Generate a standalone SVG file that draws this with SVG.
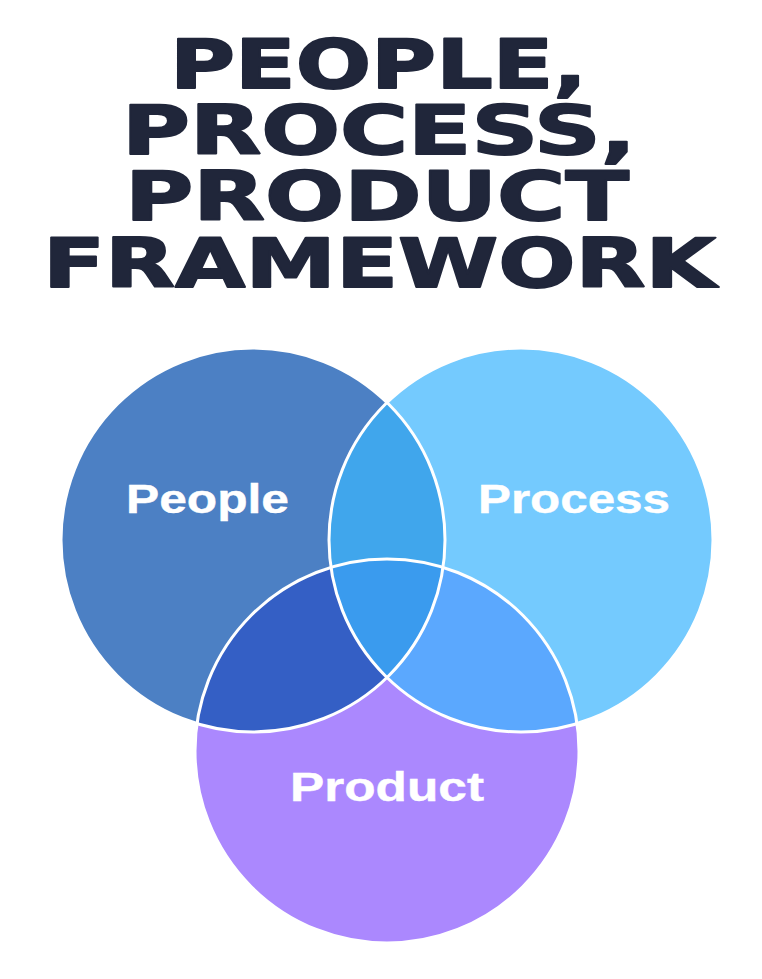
<svg xmlns="http://www.w3.org/2000/svg" width="762" height="979" viewBox="0 0 762 979">
<style>
.title{font-family:"DejaVu Sans","Liberation Sans",sans-serif;font-weight:bold;font-size:68px;fill:#20263a;stroke:#20263a;stroke-width:1.8px;stroke-linejoin:round}
.label{font-family:"Liberation Sans","DejaVu Sans",sans-serif;font-weight:bold;font-size:40px;fill:#ffffff;stroke:#ffffff;stroke-width:0.4px}
.ring{fill:none;stroke:#ffffff;stroke-width:3}
</style>
<defs>
<clipPath id="cA"><circle cx="253" cy="540" r="192"/></clipPath>
<clipPath id="cB"><circle cx="521" cy="540" r="192"/></clipPath>
<clipPath id="cC"><circle cx="387" cy="751" r="192"/></clipPath>
</defs>
<rect width="762" height="979" fill="#ffffff"/>
<g id="title">
<text class="title" x="170" y="88" textLength="417" lengthAdjust="spacingAndGlyphs">PEOPLE,</text>
<text class="title" x="122" y="154" textLength="514" lengthAdjust="spacingAndGlyphs">PROCESS,</text>
<text class="title" x="125" y="220" textLength="504" lengthAdjust="spacingAndGlyphs">PRODUCT</text>
<text class="title" x="43" y="287" textLength="673" lengthAdjust="spacingAndGlyphs">FRAMEWORK</text>
</g>
<g id="people"><circle cx="253" cy="540" r="192" fill="#4c80c4"/></g>
<g id="process"><circle cx="521" cy="540" r="192" fill="#74cafe"/></g>
<g id="product"><circle cx="387" cy="751" r="192" fill="#ab88fe"/></g>
<g id="overlaps">
<g clip-path="url(#cA)"><circle cx="521" cy="540" r="192" fill="#40a6ec"/><circle cx="387" cy="751" r="192" fill="#345fc5"/></g>
<g clip-path="url(#cB)"><circle cx="387" cy="751" r="192" fill="#5ba8fe"/></g>
<g clip-path="url(#cA)"><g clip-path="url(#cB)"><circle cx="387" cy="751" r="192" fill="#3a9bee"/></g></g>
</g>
<g id="connectors">
<circle class="ring" cx="253" cy="540" r="192"/>
<circle class="ring" cx="521" cy="540" r="192"/>
<circle class="ring" cx="387" cy="751" r="192"/>
</g>
<g id="labels">
<text class="label" x="126" y="513" textLength="163" lengthAdjust="spacingAndGlyphs">People</text>
<text class="label" x="478" y="513" textLength="192" lengthAdjust="spacingAndGlyphs">Process</text>
<text class="label" x="290" y="801" textLength="194" lengthAdjust="spacingAndGlyphs">Product</text>
</g>
</svg>
